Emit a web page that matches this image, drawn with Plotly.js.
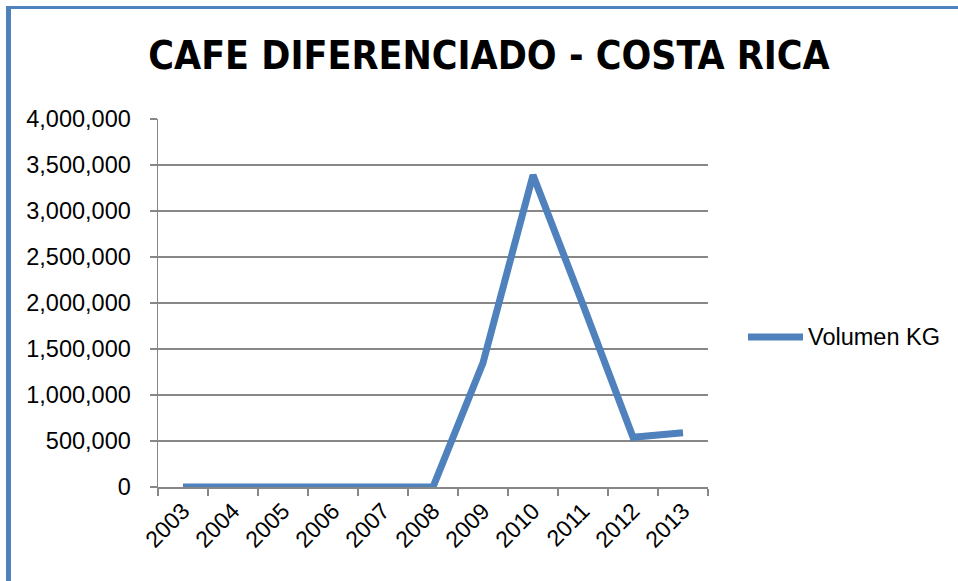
<!DOCTYPE html>
<html>
<head>
<meta charset="utf-8">
<script src="https://cdn.plot.ly/plotly-3.0.1.min.js"></script>
<style>
  html, body { margin: 0; padding: 0; background: #fff; }
  #wrap { position: relative; width: 958px; height: 581px; overflow: hidden; }
  #chart { width: 958px; height: 581px; }
  #frame { position: absolute; left: 6px; top: 6px; width: 960px; height: 572px;
           border-left: 5px solid #4F81BD; border-top: 3px solid #4F81BD; border-bottom: 3px solid #4F81BD;
           pointer-events: none; box-sizing: content-box; }
</style>
</head>
<body>
<div id="wrap">
  <div id="chart"></div>
  <div id="frame"></div>
</div>
<script>
const years = ["2003","2004","2005","2006","2007","2008","2009","2010","2011","2012","2013"];
const volumenKG = [0, 0, 0, 0, 0, 0, 1350000, 3390000, 1980000, 540000, 590000];
const seriesName = "Volumen KG";
const chartTitle = "CAFE DIFERENCIADO - COSTA RICA";
const yTicks = [0, 500000, 1000000, 1500000, 2000000, 2500000, 3000000, 3500000, 4000000];
const yTickLabels = ["0","500,000","1,000,000","1,500,000","2,000,000","2,500,000","3,000,000","3,500,000","4,000,000"];

const blue = "#4F81BD";
const gray = "#878787";
const font = "Liberation Sans, Arial, sans-serif";

const trace = {
  x: years, y: volumenKG, name: seriesName, type: "scatter", mode: "lines",
  line: { color: blue, width: 7 }, showlegend: false, hoverinfo: "x+y"
};

const layout = {
  width: 958, height: 581,
  margin: { l: 158, r: 250, t: 119, b: 94 },
  paper_bgcolor: "#fff", plot_bgcolor: "#fff",
  title: {
    text: "<b>" + chartTitle + "</b>",
    font: { family: "Liberation Sans Narrow, DejaVu Sans Condensed, Arial Narrow, sans-serif", size: 39, color: "#000" },
    x: 489 / 958, xref: "container", xanchor: "center",
    y: 1 - 55 / 581, yref: "container", yanchor: "middle"
  },
  xaxis: {
    type: "category", range: [-0.5, 10.5], tickson: "boundaries",
    showgrid: false, showline: true, linecolor: gray, linewidth: 1.5,
    ticks: "outside", ticklen: 7, tickcolor: gray, tickwidth: 1.5,
    tickangle: -45, tickfont: { family: font, size: 23, color: "#000" },
    zeroline: false, fixedrange: true
  },
  yaxis: {
    range: [0, 4000000], tickvals: yTicks, ticktext: yTickLabels,
    showgrid: true, gridcolor: gray, gridwidth: 1.5,
    showline: true, linecolor: gray, linewidth: 1.5,
    ticks: "outside", ticklen: 7, tickcolor: gray, tickwidth: 1.5,
    ticklabelstandoff: 14,
    tickfont: { family: font, size: 23.5, color: "#000" },
    zeroline: false, fixedrange: true
  },
  shapes: [{
    type: "line", xref: "paper", yref: "paper",
    x0: (748 - 158) / 550, x1: (803 - 158) / 550,
    y0: (487 - 337) / 368, y1: (487 - 337) / 368,
    line: { color: blue, width: 7 }
  }],
  annotations: [{
    text: seriesName, xref: "paper", yref: "paper",
    x: (806 - 158) / 550, y: (487 - 337) / 368, xanchor: "left", yanchor: "middle",
    showarrow: false, font: { family: font, size: 23.5, color: "#000" }
  }]
};

Plotly.newPlot("chart", [trace], layout, { displayModeBar: false, staticPlot: true });
</script>
</body>
</html>
